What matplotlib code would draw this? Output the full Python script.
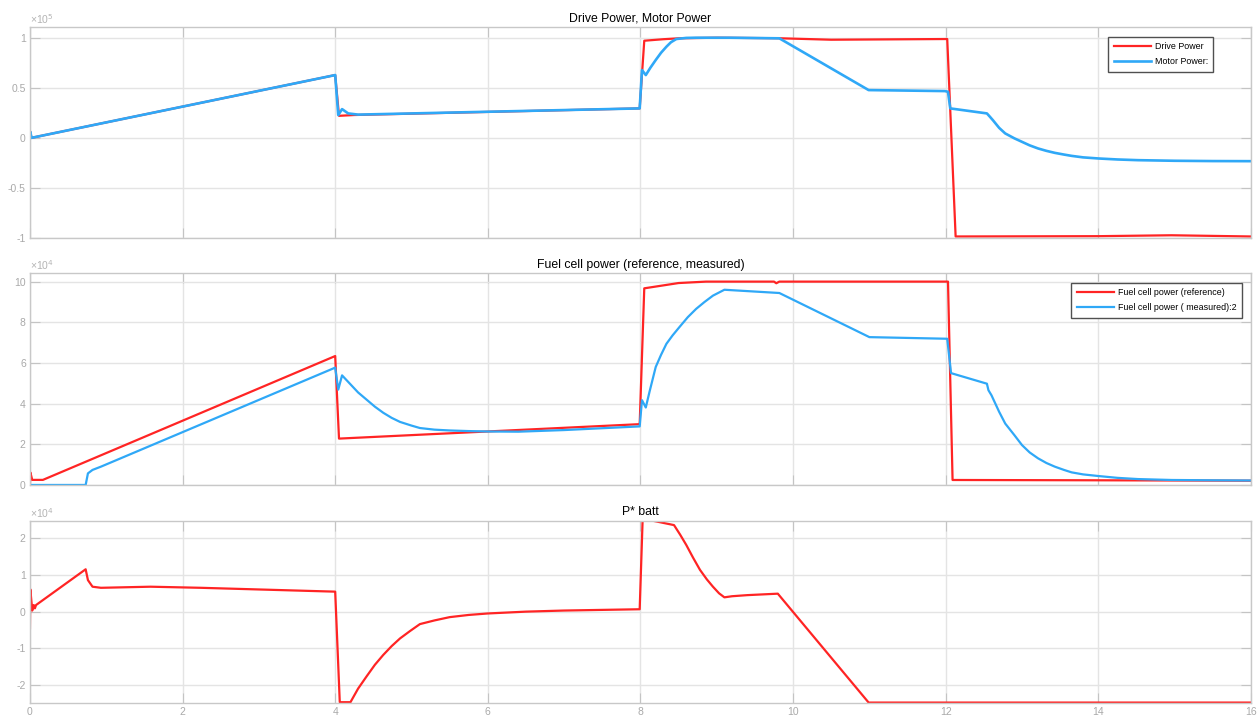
import matplotlib
matplotlib.use('Agg')
import matplotlib.pyplot as plt
import numpy as np

plt.rcParams['font.family'] = ['Liberation Sans', 'DejaVu Sans']

# ---- data ----
# panel 1: drive / motor power, x1e5
drive_t = [0, 0.005, 0.02, 4.0, 4.05, 4.25, 7.99, 8.05, 8.3, 8.5, 9.0, 9.8, 10.5, 12.02,
           12.13, 14.0, 14.96, 16.0]
drive_p = [0, 0.06, 0.0, 0.627, 0.22, 0.228, 0.294, 0.97, 0.985, 0.994, 1.0, 0.995, 0.98, 0.987,
           -0.985, -0.982, -0.973, -0.985]

motor_t = [0, 0.005, 0.02, 4.0, 4.04, 4.09, 4.17, 4.3, 7.99, 8.02, 8.07, 8.13, 8.2, 8.27,
           8.34, 8.4, 8.47, 8.6, 8.73, 9.17, 9.82, 10.99, 11.99, 12.03, 12.06, 12.54, 12.58,
           12.62, 12.7, 12.78, 12.9, 13.0, 13.1, 13.21, 13.32, 13.43, 13.55, 13.65, 13.8,
           14.0, 14.25, 14.52, 15.0, 15.5, 16.0]
motor_p = [0, 0.06, 0.0, 0.627, 0.227, 0.287, 0.244, 0.232, 0.294, 0.677, 0.627, 0.7, 0.777, 0.85,
           0.91, 0.955, 0.987, 0.998, 1.0, 1.0, 0.994, 0.477, 0.467, 0.46, 0.294, 0.244, 0.21,
           0.175, 0.1, 0.044, -0.005, -0.04, -0.075, -0.106, -0.13, -0.15, -0.167, -0.18, -0.195,
           -0.206, -0.216, -0.223, -0.229, -0.232, -0.233]

# panel 2: fuel cell power, x1e4
ref_t = [0, 0.005, 0.03, 0.17, 4.0, 4.05, 7.99, 8.05, 8.5, 8.86, 9.75, 9.78, 9.82, 12.03,
         12.09, 14.0, 16.0]
ref_p = [0, 0.62, 0.25, 0.25, 6.34, 2.28, 2.99, 9.67, 9.93, 10.0, 10.0, 9.92, 10.0, 10.0,
         0.245, 0.23, 0.21]

meas_t = [0, 0.73, 0.76, 0.82, 0.93, 4.0, 4.04, 4.09, 4.15, 4.2, 4.3, 4.41, 4.52, 4.63,
          4.74, 4.85, 5.0, 5.11, 5.3, 5.5, 5.75, 6.0, 6.4, 7.0, 7.99, 8.02, 8.07, 8.12,
          8.2, 8.27, 8.34, 8.42, 8.51, 8.62, 8.73, 8.84, 8.95, 9.1, 9.82, 11.0, 12.02,
          12.07, 12.54, 12.56, 12.6, 12.7, 12.78, 12.9, 13.0, 13.1, 13.21, 13.32, 13.43,
          13.55, 13.65, 13.8, 14.0, 14.25, 14.52, 14.96, 15.5, 16.0]
meas_p = [0, 0, 0.57, 0.74, 0.9, 5.77, 4.69, 5.39, 5.15, 4.95, 4.55, 4.2, 3.85, 3.55,
          3.3, 3.1, 2.92, 2.8, 2.72, 2.68, 2.65, 2.63, 2.62, 2.7, 2.88, 4.17, 3.81, 4.6,
          5.8, 6.4, 6.94, 7.35, 7.76, 8.25, 8.66, 9.0, 9.31, 9.6, 9.44, 7.27, 7.19,
          5.5, 4.98, 4.66, 4.41, 3.6, 3.02, 2.45, 1.96, 1.6, 1.31, 1.08, 0.9,
          0.74, 0.62, 0.52, 0.44, 0.35, 0.29, 0.245, 0.23, 0.22]

# panel 3: P* batt, x1e4
batt_t = [0, 0.005, 0.03, 0.05, 0.065, 0.08, 0.73, 0.76, 0.82, 0.93, 1.58, 2.24, 4.0, 4.06,
          4.2, 4.3, 4.41, 4.52, 4.63, 4.74, 4.85, 4.98, 5.11, 5.3, 5.5, 5.75, 6.0, 6.5,
          7.0, 7.99, 8.03, 8.16, 8.44, 8.52, 8.6, 8.69, 8.78, 8.87, 8.95, 9.03, 9.1, 9.2,
          9.4, 9.6, 9.8, 10.99, 16.0]
batt_p = [-0.45, 0.61, 0.03, 0.18, 0.09, 0.18, 1.155, 0.86, 0.68, 0.65, 0.68, 0.65, 0.545, -2.47,
          -2.47, -2.1, -1.77, -1.45, -1.18, -0.94, -0.73, -0.53, -0.34, -0.24, -0.15, -0.09, -0.05, 0.0,
          0.03, 0.065, 2.6, 2.48, 2.36, 2.1, 1.82, 1.47, 1.14, 0.88, 0.68, 0.5, 0.39, 0.42,
          0.45, 0.47, 0.49, -2.48, -2.48]

RED = '#ff2424'
BLUE = '#2fa8f7'
LW = 1.6

fig = plt.figure(figsize=(12.58, 7.22), dpi=100)
ax1 = fig.add_axes([0.0238, 0.6704, 0.9706, 0.2922])
ax2 = fig.add_axes([0.0238, 0.3283, 0.9706, 0.2932])
ax3 = fig.add_axes([0.0238, 0.0259, 0.9706, 0.2529])


def style(ax, ylim, yticks, ylabels, exp, show_x):
    ax.set_xlim(0, 16)
    ax.set_ylim(*ylim)
    ax.set_xticks(np.arange(0, 17, 2))
    ax.set_yticks(yticks)
    ax.set_yticklabels(ylabels)
    if not show_x:
        ax.set_xticklabels([])
    ax.grid(True, color='#e4e4e4', linewidth=1.0)
    ax.set_axisbelow(True)
    ax.tick_params(direction='in', length=7.5, width=0.8, color='#c4c4c4',
                   labelcolor='#a9a9a9', labelsize=7.5, top=True, right=True, pad=3)
    for s in ax.spines.values():
        s.set_color('#c8c8c8')
        s.set_linewidth(1.0)
    ax.text(0.0, 1.004, '×10$^{%d}$' % exp, transform=ax.transAxes, color='#b4b4b4',
            fontsize=7.5, ha='left', va='bottom')


def add_legend(ax, anchor):
    leg = ax.legend(loc='upper right', bbox_to_anchor=anchor, borderaxespad=0,
                    fontsize=6.4, handlelength=4.2, handletextpad=0.4, labelspacing=0.72,
                    borderpad=0.6, fancybox=False, framealpha=1, edgecolor='#505050')
    leg.get_frame().set_linewidth(1.0)


# Drive power / motor power
ax1.plot(drive_t, drive_p, color=RED, lw=LW, label='Drive Power')
ax1.plot(motor_t, motor_p, color=BLUE, lw=LW + 0.3, label='Motor Power:')
style(ax1, (-1, 1.107), [-1, -0.5, 0, 0.5, 1], ['-1', '-0.5', '0', '0.5', '1'], 5, False)
ax1.set_title('Drive Power, Motor Power', fontsize=8.8, pad=4)
add_legend(ax1, (0.969, 0.954))

# Fuel cell power
ax2.plot(ref_t, ref_p, color=RED, lw=LW, label='Fuel cell power (reference)')
ax2.plot(meas_t, meas_p, color=BLUE, lw=LW, label='Fuel cell power ( measured):2')
style(ax2, (0, 10.41), [0, 2, 4, 6, 8, 10], ['0', '2', '4', '6', '8', '10'], 4, False)
ax2.set_title('Fuel cell power (reference, measured)', fontsize=8.8, pad=4)
add_legend(ax2, (0.9924, 0.956))

# Battery power
ax3.plot(batt_t, batt_p, color=RED, lw=LW)
style(ax3, (-2.5, 2.48), [-2, -1, 0, 1, 2], ['-2', '-1', '0', '1', '2'], 4, True)
ax3.set_title('P* batt', fontsize=8.8, pad=4)

fig.savefig('out.png', dpi=100, facecolor='white')
